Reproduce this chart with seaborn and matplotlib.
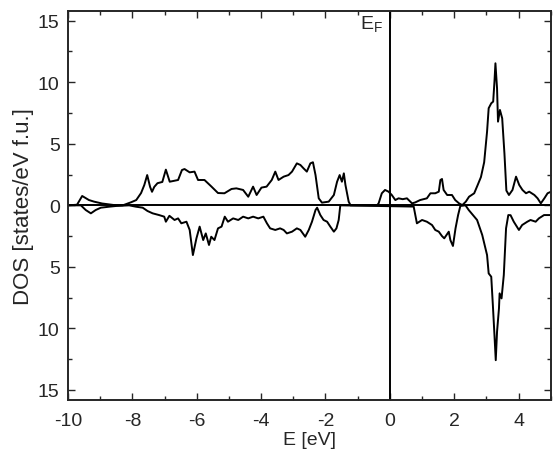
import numpy as np
import pandas as pd
import matplotlib
matplotlib.use("Agg")
import matplotlib.pyplot as plt
import matplotlib.ticker as ticker
import seaborn as sns

# spin-up DOS
up_E = [-10.0, -9.72, -9.56, -9.35, -9.19, -8.94, -8.5, -8.3, -8.04, -7.88, -7.73, -7.63, -7.54,
        -7.45, -7.39, -7.32, -7.22, -7.07, -6.96, -6.84, -6.69, -6.58, -6.46, -6.38, -6.22, -6.07,
        -5.96, -5.76, -5.55, -5.34, -5.14, -4.92, -4.77, -4.56, -4.40, -4.25, -4.14, -3.99, -3.83,
        -3.67, -3.56, -3.46, -3.30, -3.15, -3.04, -2.89, -2.78, -2.68, -2.58, -2.47, -2.39, -2.31,
        -2.21, -2.11, -1.90, -1.74, -1.64, -1.56, -1.49, -1.43, -1.38, -1.28, -1.22, -0.40, -0.35,
        -0.25, -0.15, -0.04, 0.06, 0.17, 0.27, 0.40, 0.53, 0.69, 0.79, 0.94, 1.15, 1.26, 1.41,
        1.52, 1.57, 1.62, 1.67, 1.78, 1.93, 2.03, 2.15, 2.25, 2.36, 2.46, 2.62, 2.72, 2.83, 2.93,
        3.02, 3.07, 3.15, 3.21, 3.25, 3.28, 3.33, 3.36, 3.42, 3.49, 3.56, 3.62, 3.70, 3.81, 3.92,
        4.02, 4.12, 4.23, 4.33, 4.49, 4.59, 4.69, 4.80, 4.90, 5.0]
up_D = [0.0, 0.05, 0.76, 0.43, 0.30, 0.15, 0.0, 0.0, 0.25, 0.43, 1.0, 1.65, 2.46,
        1.5, 1.1, 1.5, 1.8, 1.9, 2.9, 1.92, 2.0, 2.06, 2.87, 2.95, 2.68, 2.74,
        2.06, 2.06, 1.54, 1.0, 0.98, 1.33, 1.38, 1.25, 0.7, 1.52, 0.84, 1.44, 1.52,
        2.06, 2.74, 2.06, 2.33, 2.46, 2.74, 3.41, 3.28, 3.0, 2.74, 3.41, 3.5, 2.46,
        0.57, 0.22, 0.3, 0.84, 1.92, 2.46, 1.92, 2.6, 1.65, 0.3, 0.0, 0.0, 0.16,
        0.98, 1.25, 1.11, 0.84, 0.43, 0.57, 0.5, 0.57, 0.16, 0.24, 0.43, 0.57, 0.98, 0.98,
        1.11, 2.06, 2.14, 1.25, 0.84, 0.84, 0.43, 0.16, 0.02, 0.3, 0.7, 0.98, 1.6, 2.3, 3.5,
        5.99, 7.89, 8.29, 8.43, 10.06, 11.54, 9.51, 6.8, 7.75, 7.07, 4.2, 1.2, 0.84, 1.25, 2.33,
        1.65, 1.25, 0.98, 1.11, 0.84, 0.57, 0.16, 0.57, 0.98, 1.1]

# spin-down DOS (magnitude, drawn below zero)
dn_E = [-10.0, -9.6, -9.45, -9.29, -9.14, -8.98, -8.72, -8.5, -8.1, -7.89, -7.68, -7.53, -7.37,
        -7.17, -7.01, -6.96, -6.85, -6.69, -6.58, -6.48, -6.32, -6.22, -6.12, -6.01, -5.91, -5.80,
        -5.72, -5.62, -5.55, -5.45, -5.34, -5.23, -5.13, -5.03, -4.87, -4.71, -4.56, -4.40, -4.25,
        -4.09, -3.93, -3.82, -3.72, -3.56, -3.41, -3.30, -3.20, -3.04, -2.89, -2.78, -2.63, -2.52,
        -2.42, -2.31, -2.26, -2.16, -2.06, -1.95, -1.85, -1.74, -1.66, -1.59, -1.54, 0.74, 0.84,
        1.00, 1.15, 1.31, 1.41, 1.52, 1.62, 1.69, 1.83, 1.88, 1.96, 2.04, 2.12, 2.19, 2.35, 2.45,
        2.71, 2.87, 3.02, 3.07, 3.15, 3.20, 3.25, 3.29, 3.33, 3.39, 3.41, 3.47, 3.54, 3.61, 3.68,
        3.75, 3.85, 4.01, 4.11, 4.27, 4.37, 4.53, 4.63, 4.79, 5.0]
dn_D = [0.0, 0.0, 0.38, 0.65, 0.38, 0.19, 0.11, 0.05, 0.0, 0.11, 0.19, 0.46, 0.65,
        0.79, 0.92, 1.33, 0.85, 1.19, 1.06, 1.46, 1.33, 2.0, 4.04, 2.68, 1.73, 2.82,
        2.28, 3.22, 2.55, 2.82, 1.87, 1.73, 0.92, 1.33, 1.06, 1.19, 0.92, 1.06, 0.92,
        1.06, 0.92, 1.46, 1.87, 2.0, 1.87, 2.0, 2.28, 2.14, 1.87, 2.0, 2.55, 2.0,
        1.33, 0.38, 0.19, 0.79, 1.19, 1.33, 1.73, 2.14, 1.87, 1.19, 0.0, 0.1, 1.46,
        1.19, 1.33, 1.6, 2.0, 2.14, 2.5, 2.68, 2.14, 2.82, 3.3, 1.87, 0.79, 0.05, 0.0, 0.38,
        1.19, 2.41, 4.04, 5.53, 5.8, 8.1, 10.54, 12.58, 10.27, 8.37, 7.15, 7.56, 5.66, 1.87, 0.79,
        0.8, 1.33, 2.0, 1.6, 1.33, 1.19, 1.33, 1.06, 0.79, 0.79]

y_ticks = [-15, -10, -5, 0, 5, 10, 15]

sns.set_style("ticks")
plt.rcParams['font.family'] = ['Liberation Sans', 'DejaVu Sans']
plt.rcParams['axes.unicode_minus'] = False
plt.rcParams['mathtext.fontset'] = 'custom'
plt.rcParams['mathtext.rm'] = 'Liberation Sans'

df_up = pd.DataFrame({'E': up_E, 'DOS': up_D})
df_dn = pd.DataFrame({'E': dn_E, 'DOS': -np.array(dn_D)})

fig = plt.figure(figsize=(5.53, 4.56), dpi=100)
ax = fig.add_axes([0.123, 0.121, 0.873, 0.853])

sns.lineplot(data=df_up, x='E', y='DOS', color='black', lw=1.4, estimator=None, sort=False, ax=ax)
sns.lineplot(data=df_dn, x='E', y='DOS', color='black', lw=1.4, estimator=None, sort=False, ax=ax)

ax.axhline(0, color='black', lw=1.4)
ax.axvline(0, color='black', lw=1.4)
ax.text(-0.2, 13.9, r'E$_\mathregular{F}$', ha='right', va='bottom', fontsize=14)

ax.set_xlim(-10, 5)
ax.set_ylim(-15.8, 15.8)
ax.set_xticks(range(-10, 6, 2))
ax.xaxis.set_minor_locator(ticker.MultipleLocator(1))
ax.set_yticks(y_ticks)
ax.yaxis.set_minor_locator(ticker.MultipleLocator(2.5))
ax.yaxis.set_major_formatter(ticker.FuncFormatter(lambda v, _: f'{abs(v):.0f}'))

ax.tick_params(which='both', direction='in', top=True, right=True, width=1.0, labelsize=14)
ax.tick_params(axis='x', pad=9)
ax.tick_params(axis='y', pad=6)
ax.tick_params(which='major', length=5)
ax.tick_params(which='minor', length=3)
for s in ax.spines.values():
    s.set_linewidth(1.4)

ax.set_xlabel('E [eV]', fontsize=14, labelpad=1)
ax.set_ylabel('DOS [states/eV f.u.]', fontsize=16, labelpad=3)

fig.savefig('out.png', dpi=100)
